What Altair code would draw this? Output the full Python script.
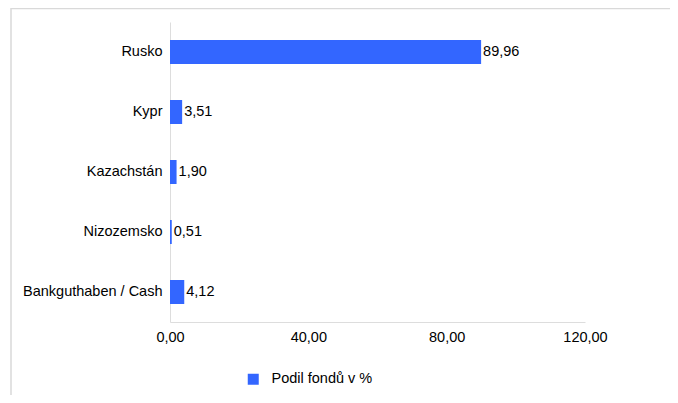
import altair as alt
import pandas as pd

categories = ["Rusko", "Kypr", "Kazachstán", "Nizozemsko", "Bankguthaben / Cash"]
values = [89.96, 3.51, 1.90, 0.51, 4.12]
labels = ["89,96", "3,51", "1,90", "0,51", "4,12"]
series_name = "Podil fondů v %"
x_ticks = [0, 40, 80, 120]

df = pd.DataFrame({
    "land": categories,
    "value": values,
    "label": labels,
    "series": [series_name] * len(categories),
})

FONT = "Liberation Sans"
FS = 14.5

y_enc = alt.Y(
    "land:N",
    sort=categories,
    title=None,
    scale=alt.Scale(paddingInner=0.6, paddingOuter=0.3),
    axis=alt.Axis(
        ticks=False,
        domainColor="#dddddd",
        labelFontSize=FS,
        labelColor="#000000",
        labelFont=FONT,
        labelPadding=8,
        grid=False,
    ),
)

x_enc = alt.X(
    "value:Q",
    title=None,
    scale=alt.Scale(domain=[0, 120], nice=False),
    axis=alt.Axis(
        values=x_ticks,
        ticks=False,
        grid=False,
        labelFlush=False,
        domainColor="#dddddd",
        labelFontSize=FS,
        labelColor="#000000",
        labelFont=FONT,
        labelPadding=8,
        labelExpr="replace(format(datum.value, '.2f'), '.', ',')",
    ),
)

base = alt.Chart(df)

bars = base.mark_bar(color="#3366ff").encode(
    color=alt.Color(
        "series:N",
        scale=alt.Scale(domain=[series_name], range=["#3366ff"]),
        legend=alt.Legend(
            title=None,
            orient="none",
            legendX=76,
            legendY=350,
            symbolType="square",
            symbolSize=121,
            symbolStrokeWidth=0,
            labelFontSize=FS,
            labelFont=FONT,
            labelColor="#000000",
            labelOffset=11,
            padding=0,
        ),
    ),
)

text = base.mark_text(
    align="left", baseline="middle", dx=2, fontSize=FS, font=FONT, color="#000000"
).encode(
    text="label:N",
)

data_layers = alt.layer(bars, text).encode(x=x_enc, y=y_enc)

frame = alt.Chart(alt.Data(values=[{"a": 1}])).mark_rect(
    fill=None, stroke="#d9d9d9", strokeWidth=1.5
).encode(
    x=alt.value(-159),
    x2=alt.value(530),
    y=alt.value(-13.5),
    y2=alt.value(420),
)

chart = alt.layer(frame, data_layers).properties(
    width=415,
    height=300,
    autosize=alt.AutoSizeParams(type="none"),
    padding={"left": 162, "top": 14, "right": 85, "bottom": 73},
).configure(font=FONT).configure_view(stroke=None)

chart.save("out.html", embed_options={"renderer": "svg", "actions": False})
